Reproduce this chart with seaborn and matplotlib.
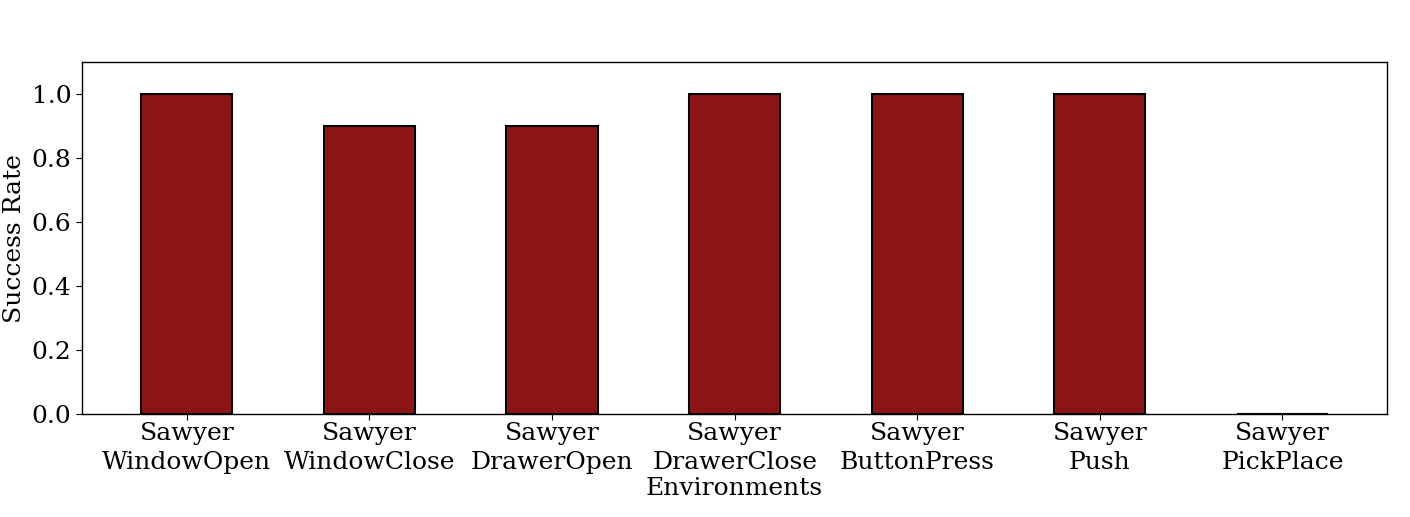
import pandas as pd
import seaborn as sns
import matplotlib.pyplot as plt

environments = ["Sawyer\nWindowOpen", "Sawyer\nWindowClose", "Sawyer\nDrawerOpen",
                "Sawyer\nDrawerClose", "Sawyer\nButtonPress", "Sawyer\nPush", "Sawyer\nPickPlace"]
success_rate = [1.0, 0.9, 0.9, 1.0, 1.0, 1.0, 0.0]

df = pd.DataFrame({"Environments": environments, "Success Rate": success_rate})

sns.set_style("white")
plt.rcParams["font.family"] = ["DejaVu Serif"]
plt.rcParams["text.color"] = "black"
plt.rcParams["axes.labelcolor"] = "black"
plt.rcParams["xtick.color"] = "black"
plt.rcParams["ytick.color"] = "black"

fig = plt.figure(figsize=(14.1, 5.17), dpi=100)
ax = fig.add_axes([0.058, 0.199, 0.926, 0.681])
sns.barplot(data=df, x="Environments", y="Success Rate", color="#8b1515",
            saturation=1, width=0.5, edgecolor="black", linewidth=1.5, ax=ax)
ax.set_xlim(-0.575, 6.575)
ax.set_ylim(0, 1.1)
ax.tick_params(axis="both", labelsize=18, bottom=True, left=True, length=4)
ax.tick_params(axis="x", pad=2)
for lbl in ax.get_xticklabels():
    lbl.set_linespacing(1.3)
ax.set_xlabel("Environments", fontsize=18, labelpad=2)
ax.set_ylabel("Success Rate", fontsize=18)
for s in ax.spines.values():
    s.set_color("black")
    s.set_linewidth(1)
fig.savefig("out.png", dpi=100)
